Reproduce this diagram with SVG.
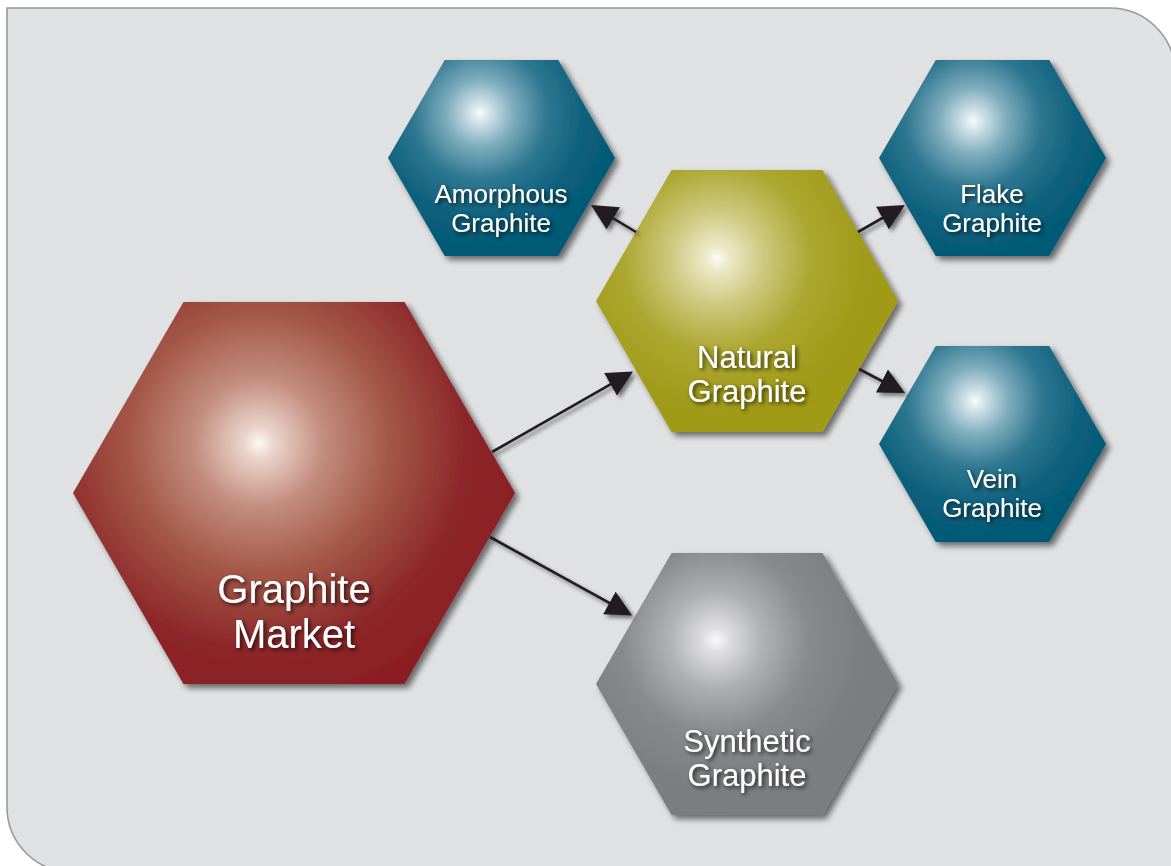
<svg xmlns="http://www.w3.org/2000/svg" width="1171" height="866" viewBox="0 0 1171 866">
<style>
.lbl{font-family:"Liberation Sans",Arial,sans-serif;fill:#ffffff;text-anchor:middle;filter:url(#ts)}
.conn{stroke:#231f20;stroke-width:2.6;fill:none;marker-end:url(#ah)}
</style>
<defs>
<filter id="ds" x="-20%" y="-20%" width="140%" height="140%">
<feGaussianBlur in="SourceAlpha" stdDeviation="3"/>
<feOffset dx="4" dy="4" result="b"/>
<feComponentTransfer><feFuncA type="linear" slope="0.55"/></feComponentTransfer>
<feMerge><feMergeNode/><feMergeNode in="SourceGraphic"/></feMerge>
</filter>
<filter id="ts" x="-20%" y="-30%" width="140%" height="160%">
<feGaussianBlur in="SourceAlpha" stdDeviation="2"/>
<feOffset dx="2" dy="2"/>
<feComponentTransfer><feFuncA type="linear" slope="0.75"/></feComponentTransfer>
<feMerge><feMergeNode/><feMergeNode in="SourceGraphic"/></feMerge>
</filter>
<filter id="as" x="-20%" y="-20%" width="140%" height="140%">
<feGaussianBlur in="SourceAlpha" stdDeviation="2"/>
<feOffset dx="3" dy="3"/>
<feComponentTransfer><feFuncA type="linear" slope="0.5"/></feComponentTransfer>
<feMerge><feMergeNode/><feMergeNode in="SourceGraphic"/></feMerge>
</filter>
<marker id="ah" markerUnits="userSpaceOnUse" markerWidth="26" markerHeight="26" refX="17" refY="13" orient="auto">
<path d="M0,0 L26,13 L0,26 Z" fill="#231f20"/>
</marker>
<radialGradient id="gRed" gradientUnits="userSpaceOnUse" cx="259" cy="443" r="260">
<stop offset="0" stop-color="#fdf9f7"/>
<stop offset="0.06" stop-color="#ebd4cb"/>
<stop offset="0.25" stop-color="#c28c7e"/>
<stop offset="0.5" stop-color="#a45848"/>
<stop offset="0.8" stop-color="#8c2629"/>
<stop offset="1" stop-color="#8a1f24"/>
</radialGradient>
<radialGradient id="gOlive" gradientUnits="userSpaceOnUse" cx="717" cy="258" r="170">
<stop offset="0" stop-color="#fdfdf4"/>
<stop offset="0.07" stop-color="#ede9c8"/>
<stop offset="0.28" stop-color="#cdc87e"/>
<stop offset="0.55" stop-color="#ada731"/>
<stop offset="0.85" stop-color="#a19b1b"/>
<stop offset="1" stop-color="#a09a18"/>
</radialGradient>
<radialGradient id="gTealA" gradientUnits="userSpaceOnUse" cx="480" cy="113" r="135">
<stop offset="0" stop-color="#f6fbfc"/>
<stop offset="0.07" stop-color="#d3e3e9"/>
<stop offset="0.25" stop-color="#7eacbd"/>
<stop offset="0.5" stop-color="#2e7790"/>
<stop offset="0.8" stop-color="#0a5f7c"/>
<stop offset="1" stop-color="#045a76"/>
</radialGradient>
<radialGradient id="gTealF" gradientUnits="userSpaceOnUse" cx="973" cy="121" r="135">
<stop offset="0" stop-color="#f6fbfc"/>
<stop offset="0.07" stop-color="#d3e3e9"/>
<stop offset="0.25" stop-color="#7eacbd"/>
<stop offset="0.5" stop-color="#2e7790"/>
<stop offset="0.8" stop-color="#0a5f7c"/>
<stop offset="1" stop-color="#045a76"/>
</radialGradient>
<radialGradient id="gTealV" gradientUnits="userSpaceOnUse" cx="975" cy="401" r="135">
<stop offset="0" stop-color="#f6fbfc"/>
<stop offset="0.07" stop-color="#d3e3e9"/>
<stop offset="0.25" stop-color="#7eacbd"/>
<stop offset="0.5" stop-color="#2e7790"/>
<stop offset="0.8" stop-color="#0a5f7c"/>
<stop offset="1" stop-color="#045a76"/>
</radialGradient>
<radialGradient id="gGrey" gradientUnits="userSpaceOnUse" cx="716" cy="640" r="170">
<stop offset="0" stop-color="#fbfbfb"/>
<stop offset="0.07" stop-color="#e0e0e2"/>
<stop offset="0.28" stop-color="#afb0b3"/>
<stop offset="0.55" stop-color="#88898d"/>
<stop offset="0.85" stop-color="#7d7e82"/>
<stop offset="1" stop-color="#7c7d81"/>
</radialGradient>
</defs>

<g id="background">
<path d="M7,8 H1110 A65,65 0 0 1 1175,73 V872 H72 A65,65 0 0 1 7,807 Z" fill="#e0e1e3" stroke="#9a9a9c" stroke-width="1.6"/>
</g>

<g id="node-graphite-market">
<polygon points="73,493 183.5,302 404.5,302 515,493 404.5,684 183.5,684" fill="url(#gRed)" filter="url(#ds)"/>
<text class="lbl" font-size="40" x="294" y="603">Graphite</text>
<text class="lbl" font-size="40" x="294" y="648">Market</text>
</g>

<g id="node-natural-graphite">
<polygon points="596,301 671.5,170 822.5,170 898,301 822.5,432 671.5,432" fill="url(#gOlive)" filter="url(#ds)"/>
<text class="lbl" font-size="31" x="747" y="368">Natural</text>
<text class="lbl" font-size="31" x="747" y="402">Graphite</text>
</g>

<g id="node-amorphous-graphite">
<polygon points="388,158 444.75,60 558.25,60 615,158 558.25,256 444.75,256" fill="url(#gTealA)" filter="url(#ds)"/>
<text class="lbl" font-size="26" x="501" y="203">Amorphous</text>
<text class="lbl" font-size="26" x="501" y="232">Graphite</text>
</g>

<g id="node-flake-graphite">
<polygon points="879,158 935.75,60 1049.25,60 1106,158 1049.25,256 935.75,256" fill="url(#gTealF)" filter="url(#ds)"/>
<text class="lbl" font-size="26" x="992" y="203">Flake</text>
<text class="lbl" font-size="26" x="992" y="232">Graphite</text>
</g>

<g id="node-vein-graphite">
<polygon points="879,444 935.75,346 1049.25,346 1106,444 1049.25,542 935.75,542" fill="url(#gTealV)" filter="url(#ds)"/>
<text class="lbl" font-size="26" x="992" y="488">Vein</text>
<text class="lbl" font-size="26" x="992" y="517">Graphite</text>
</g>

<g id="node-synthetic-graphite">
<polygon points="596,684 671.5,553 822.5,553 898,684 822.5,815 671.5,815" fill="url(#gGrey)" filter="url(#ds)"/>
<text class="lbl" font-size="31" x="747" y="752">Synthetic</text>
<text class="lbl" font-size="31" x="747" y="786">Graphite</text>
</g>

<g id="connectors" filter="url(#as)">
<line class="conn" x1="492" y1="452" x2="625.3" y2="375.9"/>
<line class="conn" x1="490" y1="537" x2="624.2" y2="611.2"/>
<line class="conn" x1="636" y1="232" x2="598.7" y2="209.6"/>
<line class="conn" x1="858" y1="232" x2="897.2" y2="209.5"/>
<line class="conn" x1="859" y1="369" x2="897" y2="388.8"/>
</g>
</svg>
